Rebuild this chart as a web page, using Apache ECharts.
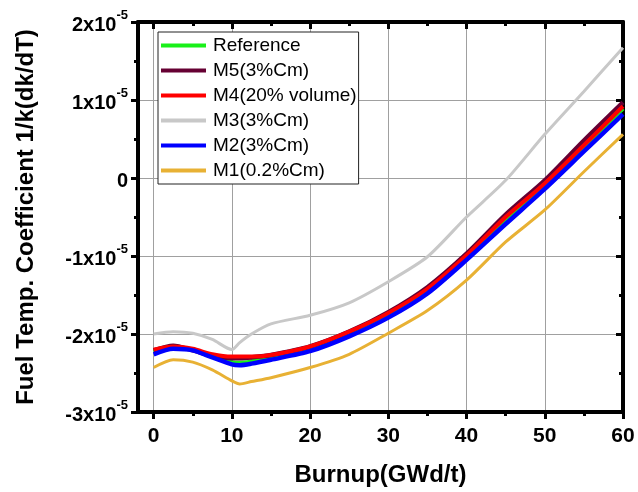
<!DOCTYPE html>
<html>
<head>
<meta charset="utf-8">
<script src="https://cdn.jsdelivr.net/npm/echarts@6/dist/echarts.min.js"></script>
<style>
  html, body { margin: 0; padding: 0; background: #fff; }
  #chart { width: 638px; height: 492px; }
</style>
</head>
<body>
<div id="chart"></div>
<script>
// burnup points (GWd/t)
var burnup = [0, 2.5, 5, 7.5, 10, 11, 12.5, 15, 20, 25, 30, 35, 40, 45, 50, 55, 60];
// fuel temperature coefficient, in units of 1e-5
var reference = [-2.23, -2.17, -2.20, -2.28, -2.36, -2.37, -2.35, -2.30, -2.19, -2.00, -1.76, -1.45, -1.02, -0.54, -0.10, 0.39, 0.89];
var m5 = [-2.21, -2.15, -2.21, -2.28, -2.31, -2.31, -2.30, -2.27, -2.16, -1.97, -1.72, -1.40, -0.97, -0.47, -0.03, 0.48, 0.97];
var m4 = [-2.20, -2.16, -2.19, -2.26, -2.29, -2.29, -2.29, -2.27, -2.16, -1.97, -1.73, -1.42, -0.99, -0.50, -0.07, 0.42, 0.92];
var m3 = [-2.00, -1.97, -1.99, -2.07, -2.20, -2.11, -2.00, -1.87, -1.76, -1.60, -1.33, -1.01, -0.50, -0.03, 0.56, 1.11, 1.67];
var m2 = [-2.26, -2.19, -2.21, -2.30, -2.39, -2.40, -2.38, -2.33, -2.22, -2.03, -1.79, -1.48, -1.05, -0.59, -0.14, 0.34, 0.82];
var m1 = [-2.43, -2.33, -2.36, -2.46, -2.60, -2.64, -2.61, -2.56, -2.43, -2.26, -1.99, -1.70, -1.31, -0.82, -0.41, 0.08, 0.56];

var names = ['Reference', 'M5(3%Cm)', 'M4(20% volume)', 'M3(3%Cm)', 'M2(3%Cm)', 'M1(0.2%Cm)'];
var colors = ['#19f019', '#660033', '#ff0000', '#c8c8c8', '#0000ff', '#e8b134'];
var widths = [4, 4.5, 4, 3, 4.5, 3];
var values = [reference, m5, m4, m3, m2, m1];

var xMajor = [0, 10, 20, 30, 40, 50, 60];
var xMinor = [5, 15, 25, 35, 45, 55];

var font = 'Liberation Sans, Arial, sans-serif';

function pairs(ys) {
    return burnup.map(function (x, i) { return [x, ys[i]]; });
}

// extra axes only carry tick marks (frame + minor ticks)
function tickAxis(pos, inside, len, ticks, showLine) {
    return {
        type: 'value',
        position: pos,
        min: -2,
        max: 60,
        axisLine: { show: showLine, onZero: false, lineStyle: { color: '#000', width: 4 } },
        axisTick: { show: true, inside: inside, length: len, customValues: ticks, lineStyle: { color: '#000', width: 3 } },
        axisLabel: { show: false },
        splitLine: { show: false }
    };
}

var chart = echarts.init(document.getElementById('chart'));

var series = values.map(function (ys, i) {
    return {
        name: names[i],
        type: 'line',
        xAxisIndex: 0,
        yAxisIndex: 0,
        data: pairs(ys),
        smooth: 0.25,
        showSymbol: false,
        symbol: 'none',
        lineStyle: { color: colors[i], width: widths[i] },
        itemStyle: { color: colors[i] }
    };
});

chart.setOption({
    animation: false,
    backgroundColor: '#fff',
    grid: { left: 138, right: 15, top: 22, bottom: 78 },
    legend: {
        orient: 'vertical',
        left: 158,
        top: 32,
        padding: [4, 2, 4, 3],
        itemWidth: 45,
        itemHeight: 4,
        itemGap: 6,
        icon: 'rect',
        selectedMode: false,
        backgroundColor: '#fff',
        borderColor: '#222',
        borderWidth: 1,
        borderRadius: 0,
        textStyle: { fontFamily: font, fontSize: 19, color: '#000', lineHeight: 19, padding: [0, 0, 0, 2] },
        data: names
    },
    xAxis: [{
        type: 'value',
        position: 'bottom',
        min: -2,
        max: 60,
        name: 'Burnup(GWd/t)',
        nameLocation: 'middle',
        nameGap: 51,
        nameTextStyle: { fontFamily: font, fontSize: 24, fontWeight: 'bold', color: '#000' },
        axisLine: { show: true, onZero: false, lineStyle: { color: '#000', width: 4 } },
        axisTick: { show: true, inside: false, length: 7, customValues: xMajor, lineStyle: { color: '#000', width: 3 } },
        axisLabel: { customValues: xMajor, margin: 14, fontFamily: font, fontSize: 21, fontWeight: 'bold', color: '#000' },
        splitLine: { show: true, lineStyle: { color: '#a0a0a0', width: 1 } }
    },
        tickAxis('bottom', false, 4, xMinor, false),
        tickAxis('top', true, 7, xMajor, true),
        tickAxis('top', true, 4, xMinor, false)
    ],
    yAxis: [{
        type: 'value',
        position: 'left',
        min: -3,
        max: 2,
        interval: 1,
        name: 'Fuel Temp. Coefficient 1/k(dk/dT)',
        nameLocation: 'middle',
        nameGap: 100,
        nameTextStyle: { fontFamily: font, fontSize: 24, fontWeight: 'bold', color: '#000' },
        axisLine: { show: true, onZero: false, lineStyle: { color: '#000', width: 4 } },
        axisTick: { show: true, inside: false, length: 7, lineStyle: { color: '#000', width: 3 } },
        minorTick: { show: true, splitNumber: 2, length: 4, lineStyle: { color: '#000', width: 3 } },
        axisLabel: {
            margin: 10,
            formatter: function (v) {
                return v === 0 ? '{b|0}' : '{b|' + v + 'x10}{s|-5}';
            },
            rich: {
                b: { fontFamily: font, fontSize: 20, fontWeight: 'bold', color: '#000', lineHeight: 26, verticalAlign: 'bottom' },
                s: { fontFamily: font, fontSize: 13, fontWeight: 'bold', color: '#000', lineHeight: 26, verticalAlign: 'top' }
            }
        },
        splitLine: { show: true, lineStyle: { color: '#a0a0a0', width: 1 } }
    }, {
        type: 'value',
        position: 'right',
        min: -3,
        max: 2,
        interval: 1,
        axisLine: { show: true, onZero: false, lineStyle: { color: '#000', width: 4 } },
        axisTick: { show: true, inside: true, length: 7, lineStyle: { color: '#000', width: 3 } },
        minorTick: { show: true, splitNumber: 2, length: 4, lineStyle: { color: '#000', width: 3 } },
        axisLabel: { show: false },
        splitLine: { show: false }
    }],
    series: series
});
</script>
</body>
</html>
